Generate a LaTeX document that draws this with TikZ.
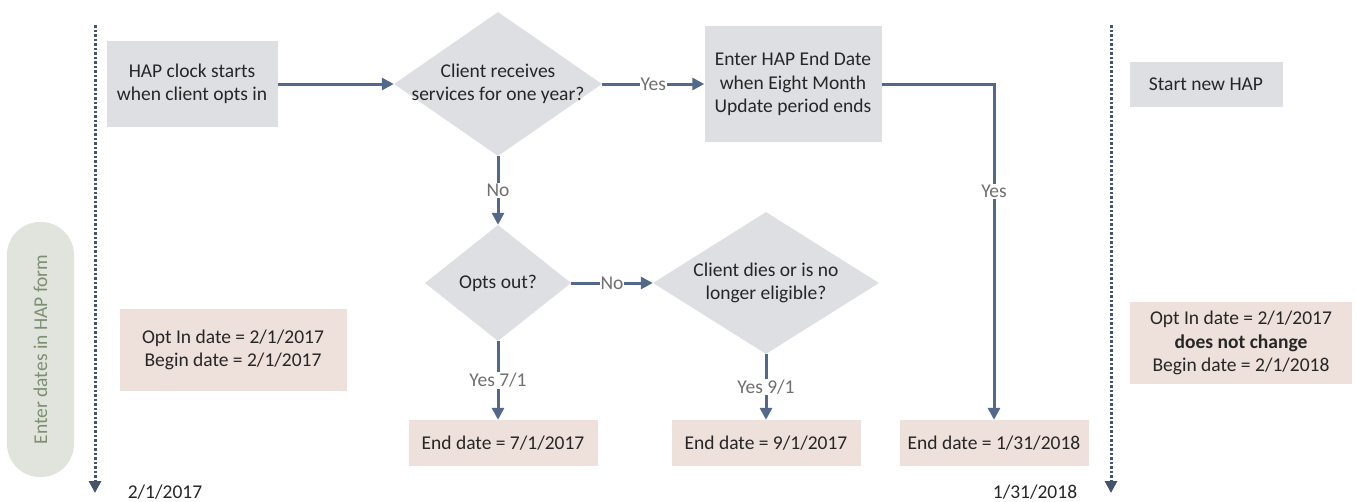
\documentclass[tikz,border=0pt]{standalone}
\usepackage{fontspec}
\setmainfont{Carlito}
\usetikzlibrary{arrows.meta,shapes.geometric,calc}
\definecolor{boxgray}{HTML}{DEDFE3}
\definecolor{boxpink}{HTML}{EEE0DA}
\definecolor{linec}{HTML}{52698C}
\definecolor{dotc}{HTML}{44546A}
\definecolor{lblc}{HTML}{6F6F6F}
\definecolor{txtc}{HTML}{262626}
\definecolor{pillc}{HTML}{E1E3DD}
\definecolor{pilltxt}{HTML}{7D8F71}
\begin{document}
\begin{tikzpicture}[x=1pt,y=-1pt,
  font=\fontsize{19.5}{23.5}\selectfont, text=txtc,
  graybox/.style={fill=boxgray, inner sep=0pt, align=center},
  pinkbox/.style={fill=boxpink, inner sep=0pt, align=center},
  decision/.style={diamond, fill=boxgray, inner sep=0pt},
  flow/.style={draw=linec, line width=3pt, -{Triangle[length=12pt,width=12pt]}},
  lbl/.style={fill=white, text=lblc, inner sep=1pt},
  timeline/.style={draw=dotc, line width=3pt, dash pattern=on 2.5pt off 2pt, -{Triangle[length=12pt,width=12pt]}}]
\useasboundingbox (0,0) rectangle (1357,501);

% timelines
\coordinate (tlLtop) at (95,25);
\coordinate (tlLbot) at (95,493);
\coordinate (tlRtop) at (1111,25);
\coordinate (tlRbot) at (1111,493);
\draw[timeline] (tlLtop) -- (tlLbot);
\draw[timeline] (tlRtop) -- (tlRbot);

% pill
\node[rotate=90, fill=pillc, rounded corners=33pt, minimum width=255pt, minimum height=67pt, inner sep=0pt, text=pilltxt] (pill) at (40.5,349.5) {Enter dates in HAP form};

% top row
\node[graybox, minimum width=171pt, minimum height=86pt] (start) at (192,84) {HAP clock starts\\when client opts in};
\node[decision, minimum width=208pt, minimum height=144pt,
  label={[align=center]center:Client receives\\services for one year?}] (d1) at (498,84) {};
\node[graybox, minimum width=177pt, minimum height=116pt] (b2) at (793,84) {Enter HAP End Date\\when Eight Month\\Update period ends};
\node[graybox, minimum width=153pt, minimum height=45pt] (newhap) at (1206,84) {Start new HAP};

% middle row
\node[decision, minimum width=146pt, minimum height=116pt,
  label={[align=center]center:Opts out?}] (d2) at (498,283) {};
\node[decision, minimum width=226pt, minimum height=142pt,
  label={[align=center]center:Client dies or is no\\longer eligible?}] (d3) at (766,283) {};

% date boxes
\node[pinkbox, minimum width=227pt, minimum height=82pt] (optL) at (233,350) {Opt In date = 2/1/2017\\Begin date = 2/1/2017};
\node[pinkbox, minimum width=222pt, minimum height=82pt] (optR) at (1241,343) {Opt In date = 2/1/2017\\\textbf{does not change}\\Begin date = 2/1/2018};
\node[pinkbox, minimum width=189pt, minimum height=46pt] (eA) at (503,443) {End date = 7/1/2017};
\node[pinkbox, minimum width=189pt, minimum height=46pt] (eB) at (766,443) {End date = 9/1/2017};
\node[pinkbox, minimum width=189pt, minimum height=46pt] (eC) at (994,443) {End date = 1/31/2018};

% timeline dates
\node (dL) at (165,492) {2/1/2017};
\node (dR) at (1035,492) {1/31/2018};

% connectors
\draw[flow] (start) -- (d1);
\draw[flow] (d1) -- node[lbl]{Yes} (b2);
\draw[flow] (b2.east) -| node[lbl, pos=0.66]{Yes} (eC.north);
\draw[flow] (d1.south) -- node[lbl]{No} (d2.north);
\draw[flow] (d2) -- node[lbl]{No} (d3);
\draw[flow] (d2.south) -- node[lbl]{Yes 7/1} (d2.south |- eA.north);
\draw[flow] (d3.south) -- node[lbl]{Yes 9/1} (eB.north);
\end{tikzpicture}
\end{document}
